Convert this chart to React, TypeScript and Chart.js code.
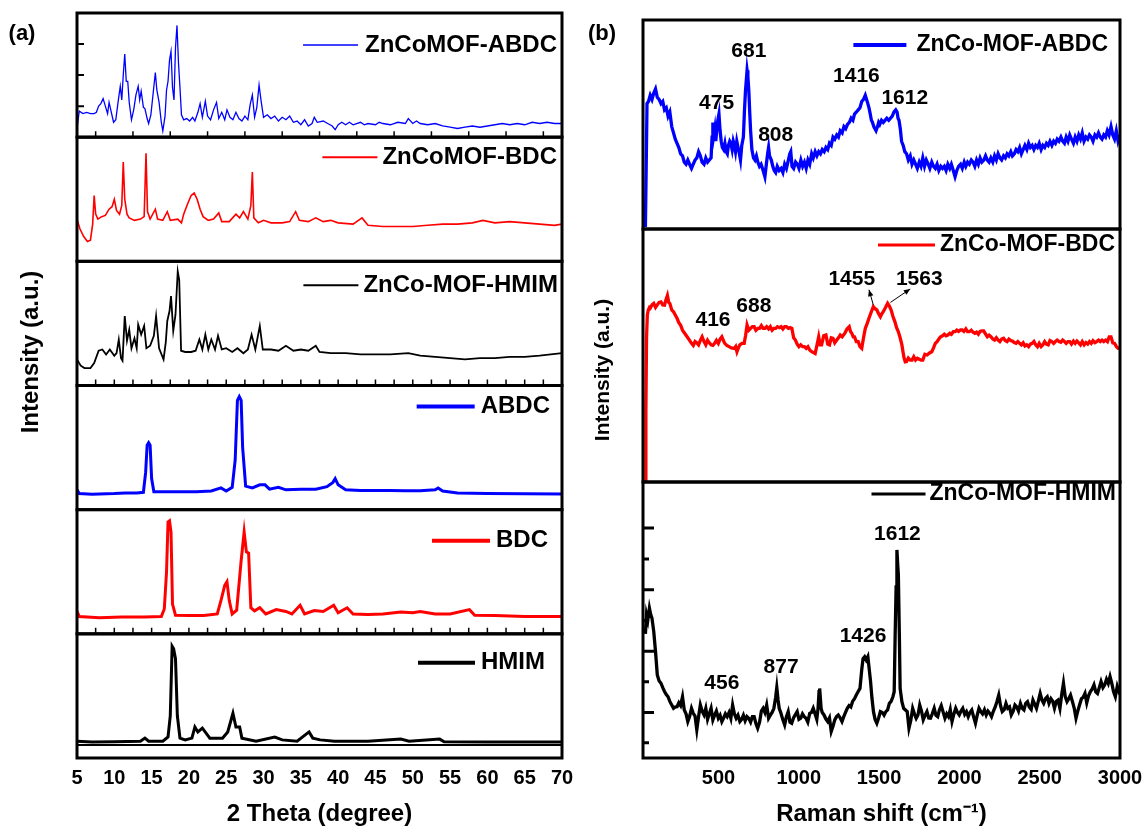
import React, { useEffect, useRef } from "react";
import { Chart, registerables } from "chart.js";

Chart.register(...registerables);

const FONT = 'Arial, "Liberation Sans", sans-serif';
type Pt = [number, number];

// ---------------- (a) XRD : 2θ (degree) vs intensity (a.u., 0-100 per strip) ----------------
const xrdTickLabels = [5, 10, 15, 20, 25, 30, 35, 40, 45, 50, 55, 60, 65, 70];
const xrdInnerTicksFine = [7.5, 10, 12.5, 15, 17.5, 20, 22.5, 25, 27.5, 30, 32.5, 35, 37.5, 40, 42.5, 45, 47.5, 50, 52.5, 55, 57.5, 60, 62.5, 65, 67.5];
const xrdInnerTicksCoarse = [7.5, 12.5, 17.5, 22.5, 27.5, 32.5, 37.5, 42.5, 47.5, 52.5, 57.5, 62.5, 67.5];
const xrdTopLeftTicks = [25, 50, 75];

const xrdZnCoMofAbdc: Pt[] = [[5,7],[5.3,21],[5.8,19],[6.3,20],[6.8,19],[7.3,19],[7.6,20],[7.9,25],[8.2,27],[8.5,31],[8.8,25],[9.1,19],[9.3,28],[9.6,20],[9.9,12],[10.2,14],[10.5,28],[10.8,41],[11.0,30],[11.2,50],[11.4,67],[11.6,45],[11.8,45],[12.0,28],[12.3,14],[12.6,22],[12.9,34],[13.2,41],[13.4,30],[13.6,37],[13.9,24],[14.1,23],[14.4,15],[14.6,11],[14.9,18],[15.2,35],[15.5,52],[15.7,38],[16.0,28],[16.3,12],[16.5,5],[16.8,17],[17.0,38],[17.2,45],[17.4,62],[17.6,69],[17.8,40],[18.0,30],[18.2,72],[18.4,90],[18.6,60],[18.8,40],[19.0,18],[19.3,14],[19.7,15],[20.1,13],[20.5,16],[20.8,13],[21.2,20],[21.5,27],[21.8,16],[22.2,29],[22.5,17],[22.9,14],[23.3,22],[23.7,28],[24.0,15],[24.4,20],[24.8,14],[25.1,22],[25.5,16],[25.9,14],[26.3,20],[26.7,15],[27.1,13],[27.5,17],[27.9,14],[28.2,26],[28.5,34],[28.8,16],[29.1,24],[29.4,42],[29.7,28],[30.0,16],[30.5,18],[31.0,15],[31.5,17],[32.0,13],[32.5,16],[33.0,14],[33.5,17],[34.0,12],[34.5,13],[35.0,10],[35.5,14],[36.0,9],[36.5,11],[36.8,16],[37.2,12],[38.0,13],[38.6,11],[39.2,9],[39.6,6],[40.0,10],[40.5,12],[41.0,10],[41.5,12],[42.0,10],[43.0,12],[43.5,10],[44.0,11],[45.0,10],[45.5,12],[46.0,11],[47.0,10],[48.0,12],[49.0,11],[49.4,15],[50.0,11],[50.5,13],[51.0,11],[52.0,10],[53.0,11],[54.0,9],[55.0,8],[56.0,7],[57.0,8],[58.0,9],[59.0,8],[60.0,9],[61.0,10],[62.0,11],[63.0,10],[64.0,11],[65.0,10],[66.0,12],[67.0,11],[68.0,12],[69.0,11],[70.0,11]];

const xrdZnCoMofBdc: Pt[] = [[5.0,34],[5.4,26],[5.9,20],[6.4,16],[6.8,17],[7.1,30],[7.3,53],[7.5,38],[7.8,34],[8.3,36],[8.8,37],[9.3,42],[9.7,44],[10.0,50],[10.3,41],[10.7,38],[11.0,45],[11.2,80],[11.4,50],[11.7,38],[12.0,35],[12.7,33],[13.5,34],[14.0,36],[14.25,87],[14.45,40],[14.8,34],[15.5,42],[15.8,34],[16.5,33],[17.1,40],[17.5,33],[18.5,34],[19.0,31],[19.3,38],[19.8,46],[20.3,53],[20.7,55],[21.1,50],[21.5,42],[21.9,36],[22.6,33],[23.3,34],[24.0,39],[24.4,32],[25.4,32],[26.3,38],[26.8,35],[27.3,40],[27.9,34],[28.3,45],[28.5,72],[28.7,35],[29.3,31],[30.0,33],[31.0,31],[32.5,31],[33.5,32],[34.3,40],[34.8,33],[36.0,32],[37.0,35],[38.0,32],[39.0,33],[40.0,31],[42.0,30],[43.2,35],[44.0,29],[46.0,28],[48.0,28],[50.0,28],[52.0,29],[54.0,30],[56.0,30],[58.0,31],[59.4,33],[61.0,31],[63.0,32],[65.0,31],[67.0,30],[69.0,29],[70.0,30]];

const xrdZnCoMofHmim: Pt[] = [[5.0,21],[5.5,16],[6.0,14],[6.8,14],[7.3,18],[7.9,28],[8.4,29],[8.9,25],[9.4,29],[10.0,24],[10.3,26],[10.6,37],[10.9,22],[11.1,20],[11.4,56],[11.7,36],[12.0,45],[12.3,30],[12.7,38],[13.0,30],[13.2,49],[13.6,41],[14.0,48],[14.3,30],[14.8,32],[15.3,40],[15.6,56],[16.0,30],[16.6,21],[16.9,35],[17.1,52],[17.4,60],[17.6,72],[17.9,44],[18.2,57],[18.5,92],[18.7,85],[18.95,28],[19.5,27],[20.3,27],[20.9,28],[21.4,37],[21.8,29],[22.2,41],[22.6,29],[23.0,37],[23.5,29],[23.9,40],[24.4,29],[25.0,30],[25.8,27],[26.5,30],[27.3,26],[27.9,29],[28.4,41],[28.9,29],[29.5,48],[29.9,29],[31.0,29],[32.0,28],[33.0,32],[34.0,28],[35.0,29],[36.0,28],[37.0,32],[37.5,27],[39.0,26],[41.0,26],[43.0,25],[45.0,25],[47.0,25],[49.4,26],[51.0,24],[53.0,23],[55.0,22],[57.0,21],[59.0,22],[61.0,22],[63.0,23],[65.0,23],[67.0,24],[70.0,26]];

const xrdAbdc: Pt[] = [[5.0,16],[5.3,13],[7.0,12.5],[10.0,13],[11.5,13.5],[13.0,13.5],[13.9,14],[14.2,30],[14.4,52],[14.6,54],[14.8,52],[15.0,25],[15.3,14.5],[17.0,14.5],[19.0,14.5],[21.0,14.5],[23.0,15],[24.3,17.5],[25.0,15],[25.8,18],[26.2,40],[26.5,88],[26.75,91],[27.0,88],[27.2,50],[27.6,19],[28.5,17.5],[29.5,20],[30.2,20],[30.8,16.5],[32.0,18],[33.0,16],[35.0,16.5],[37.0,16.5],[38.5,18.5],[39.3,22],[39.6,25],[40.0,20],[41.0,16],[43.0,15.5],[45.0,15.5],[47.0,15.5],[49.0,15.3],[51.0,15.3],[53.0,16],[53.4,17.5],[54.0,15],[56.0,13.5],[60.0,13],[65.0,12.8],[70.0,12.6]];

const xrdBdc: Pt[] = [[5.0,18],[5.3,14],[8.0,13],[11.0,13.5],[14.0,13.5],[16.3,14],[16.7,20],[17.0,50],[17.2,90],[17.4,91],[17.6,82],[17.8,24],[18.2,15],[20.0,14.8],[22.0,14.8],[23.8,16],[24.3,27],[24.8,39],[25.1,42],[25.4,27],[25.8,16],[26.4,19],[27.0,59],[27.4,82],[27.7,66],[28.0,65],[28.3,21],[28.8,18.5],[29.5,21],[30.3,16],[31.7,19.5],[33.0,18],[33.8,16],[34.9,23],[35.5,16],[36.8,18.8],[38.0,18],[39.4,23],[40.0,17],[41.2,21],[42.0,16],[44.0,15.5],[46.0,16],[48.4,17.5],[50.0,17],[51.0,18],[53.0,16],[55.0,16],[57.6,19.5],[58.3,15],[61.0,14.8],[65.0,14],[70.0,14]];

const xrdHmim: Pt[] = [[5.0,13.5],[7.0,12.8],[10.0,13],[13.5,13.5],[14.1,16],[14.6,13.5],[16.5,13.5],[17.2,17],[17.5,34],[17.75,90],[17.95,88],[18.2,80],[18.45,34],[18.8,16],[19.5,14.6],[20.4,16],[20.8,25],[21.2,21],[21.8,24],[22.3,20],[22.8,16],[24.5,16],[25.2,21],[25.9,36],[26.3,25],[26.8,25],[27.1,16],[29.0,13.5],[31.5,16.8],[32.5,14.6],[34.5,13.5],[36.1,21],[36.6,16],[37.6,14.6],[39.5,13.5],[44.0,13.5],[48.4,15.2],[49.5,13.5],[53.6,15.2],[54.2,13],[60.0,12.8],[65.0,12.8],[70.0,12.8]];

const xrdHmimBaseLine: Pt[] = [[5, 10.5], [70, 10.5]];

// ---------------- (b) Raman : shift (cm-1) vs intensity (a.u., 0-100 per strip) ----------------
const ramanTickLabels = [500, 1000, 1500, 2000, 2500, 3000];
const ramanHmimTicksMajor = [16.5, 38.7, 61, 83.3];
const ramanHmimTicksMinor = [5.5, 27.6, 49.8, 72.1];

const ramanZnCoMofAbdc: Pt[] = [[45,1],[50,30],[55,60],[64,61],[75,64],[86,62],[97,65],[108,67],[119,63],[130,62],[142,60],[153,61],[164,57],[175,58],[186,54],[197,56],[209,49],[220,46],[231,43],[242,41],[253,39],[264,36],[276,35],[287,32],[298,31],[309,33],[320,31],[332,29],[343,31],[354,33],[365,34],[376,37],[387,35],[398,32],[410,31],[421,34],[432,32],[443,33],[454,34],[460,44],[465,51],[471,45],[477,48],[483,42],[489,47],[496,52],[503,55],[510,47],[517,42],[524,39],[532,38],[540,41],[548,37],[555,36],[562,40],[570,42],[577,41],[585,38],[592,42],[599,40],[606,37],[614,42],[622,39],[630,36],[637,33],[645,40],[655,44],[662,57],[668,66],[674,72],[678,76],[683,73],[689,66],[695,55],[700,47],[708,38],[718,34],[727,33],[736,35],[745,32],[755,30],[765,31],[778,28],[789,25],[798,31],[806,36],[812,39],[818,35],[829,33],[838,30],[847,28],[856,27],[866,30],[878,28],[890,29],[901,27],[912,31],[923,29],[935,33],[944,36],[950,37],[958,30],[968,29],[980,32],[990,31],[1001,29],[1013,33],[1024,30],[1035,32],[1046,29],[1057,33],[1068,31],[1080,36],[1090,34],[1102,37],[1113,35],[1124,37],[1135,36],[1146,38],[1158,37],[1169,39],[1180,38],[1191,41],[1202,40],[1213,44],[1224,43],[1236,45],[1247,44],[1258,47],[1270,46],[1281,49],[1292,48],[1303,50],[1315,51],[1326,53],[1337,52],[1347,55],[1359,56],[1370,57],[1381,58],[1392,61],[1403,62],[1414,64],[1422,62],[1430,60],[1437,58],[1445,55],[1452,52],[1459,51],[1467,49],[1474,48],[1481,47],[1490,49],[1497,51],[1504,50],[1515,52],[1526,51],[1537,52],[1548,53],[1560,52],[1571,53],[1582,54],[1593,56],[1604,57],[1612,56],[1618,53],[1624,52],[1632,48],[1640,42],[1650,40],[1660,37],[1671,36],[1682,33],[1694,35],[1705,31],[1716,33],[1727,31],[1738,29],[1750,32],[1761,30],[1772,34],[1783,30],[1794,33],[1806,31],[1816,29],[1828,32],[1839,30],[1850,29],[1861,31],[1872,28],[1884,30],[1895,29],[1906,30],[1917,28],[1928,31],[1940,29],[1950,31],[1962,28],[1973,25],[1984,28],[1995,30],[2007,31],[2018,29],[2030,32],[2040,30],[2051,32],[2062,31],[2074,33],[2085,32],[2096,30],[2107,33],[2118,31],[2129,34],[2140,32],[2152,33],[2163,35],[2174,33],[2185,32],[2196,34],[2208,32],[2219,35],[2230,33],[2241,36],[2252,34],[2263,33],[2275,35],[2286,34],[2297,36],[2308,35],[2320,37],[2330,35],[2342,36],[2353,38],[2364,37],[2375,39],[2386,36],[2397,38],[2408,40],[2420,38],[2431,41],[2442,39],[2453,40],[2464,38],[2475,40],[2486,39],[2497,41],[2509,38],[2520,40],[2531,39],[2542,41],[2553,40],[2564,42],[2576,40],[2587,42],[2598,41],[2609,43],[2620,42],[2632,44],[2643,42],[2654,41],[2665,44],[2676,42],[2687,45],[2698,43],[2710,41],[2721,44],[2732,42],[2743,45],[2754,43],[2765,46],[2776,42],[2788,44],[2799,43],[2810,45],[2821,44],[2832,42],[2844,45],[2855,44],[2866,46],[2877,44],[2888,43],[2899,45],[2910,44],[2921,47],[2932,45],[2944,49],[2955,45],[2966,43],[2977,47],[2988,42],[3000,45]];

const ramanZnCoMofBdc: Pt[] = [[45,0],[48,28],[52,57],[57,66],[63,68],[70,69],[75,68.7],[86,70],[97,70.6],[108,69],[119,70],[130,71],[142,71.2],[153,70],[164,69.9],[173,72],[182,73.7],[190,71],[197,70.6],[209,68],[220,67.3],[231,66],[242,64.7],[253,63],[264,62],[276,60],[287,59],[298,58],[309,57],[320,56],[332,54.8],[343,54],[354,55.5],[365,55],[376,54.2],[387,56],[398,57.4],[410,55.5],[421,54.2],[432,56],[443,55],[454,54.2],[465,54],[476,54.8],[487,56],[499,54.8],[510,56.5],[521,57.4],[530,56],[539,54.8],[552,54],[566,53.5],[580,53],[599,52.8],[607,53.5],[615,51.5],[624,53],[633,54.2],[646,54.8],[660,54.8],[669,58],[678,62.1],[689,60],[700,60.7],[711,61.4],[722,61.4],[733,60],[745,60.7],[756,60.7],[767,61.8],[778,60.7],[789,60.7],[800,61.4],[812,60.5],[823,61.4],[834,60],[845,60.7],[856,60.7],[867,61.4],[879,61],[890,61.4],[901,60.5],[912,61.4],[923,61.4],[935,60.7],[946,61],[957,60.7],[968,57],[979,56.1],[990,54.5],[1001,53.5],[1012,54.2],[1024,53.5],[1035,53.5],[1046,52.8],[1057,53.5],[1068,52.2],[1080,51.5],[1091,51.2],[1102,50.8],[1113,54],[1124,57.4],[1133,54.2],[1142,54.2],[1155,57.8],[1169,58.1],[1180,54.5],[1191,54.2],[1202,57],[1213,56.8],[1224,55],[1236,56.1],[1247,57],[1258,58.1],[1270,57.4],[1287,58.8],[1300,60.5],[1314,61.4],[1322,59.5],[1330,58.8],[1339,57.4],[1347,57.4],[1358,55.5],[1370,55.5],[1381,53.5],[1392,52.8],[1403,57],[1414,60.7],[1425,62.5],[1437,64.7],[1450,67],[1464,69.3],[1475,68.5],[1486,68],[1497,66.5],[1508,65.3],[1517,66.5],[1526,67.3],[1540,69],[1553,70.6],[1564,69.5],[1575,68],[1586,65.5],[1598,63.4],[1609,61],[1620,59.4],[1631,57],[1642,54.2],[1650,51],[1656,48.9],[1663,47.5],[1671,47.6],[1682,49],[1694,48.2],[1705,48.2],[1716,49.5],[1727,48.2],[1738,48.9],[1750,48.5],[1761,48.2],[1772,48.2],[1785,50.5],[1799,50.2],[1814,51],[1828,51.5],[1839,53],[1850,54.8],[1861,55.5],[1872,56.5],[1883,57.4],[1895,57.8],[1906,58.4],[1917,57.8],[1928,58.1],[1940,58.8],[1950,58.4],[1962,59.4],[1973,59.4],[1984,60],[1995,59.5],[2007,60.1],[2017,60.1],[2028,59.5],[2040,60.5],[2051,59.4],[2062,59.4],[2074,60],[2085,59.2],[2096,58.8],[2107,59.2],[2118,58.4],[2129,59.5],[2140,59.7],[2151,59.7],[2163,58.5],[2174,57.4],[2185,58],[2196,57.4],[2208,56.5],[2219,56.1],[2230,57],[2241,56.1],[2252,55.5],[2263,56.5],[2275,56.8],[2285,55.9],[2297,55.5],[2308,56.5],[2320,55.9],[2330,55.7],[2342,55.1],[2353,54.8],[2364,55.5],[2375,54.8],[2386,54.2],[2397,55],[2408,53.8],[2419,54.2],[2431,53.5],[2442,54.5],[2453,54.8],[2464,55.5],[2475,54.2],[2486,53.5],[2497,54.8],[2509,53.5],[2520,54.2],[2531,55.5],[2542,54.5],[2553,54.2],[2564,55.9],[2576,55.5],[2587,54.8],[2598,55.5],[2609,56.1],[2620,55.5],[2632,55.2],[2643,56.1],[2654,55.5],[2665,54.8],[2676,55.5],[2687,55.5],[2698,54.5],[2710,55.7],[2721,54.8],[2732,55.7],[2743,55],[2754,54.2],[2765,55.5],[2777,54.2],[2788,55.1],[2799,54.5],[2810,55.5],[2821,54.8],[2832,55.9],[2844,55.1],[2855,55.5],[2866,56.1],[2877,55.5],[2888,56.1],[2899,55.5],[2911,56.1],[2922,55.5],[2933,57.4],[2944,57.4],[2955,55],[2966,54.8],[2978,53.5],[2989,52.8],[3000,52.8]];

const ramanZnCoMofHmim: Pt[] = [[45,45],[52,52],[60,50],[70,54.3],[78,52],[86,50.6],[97,45.8],[108,38.5],[119,30.1],[130,28],[142,27.1],[153,25.5],[164,24.1],[175,23],[186,22.2],[197,20.5],[209,19.2],[220,18],[231,18.5],[242,18.6],[253,20],[264,19],[276,22.2],[287,17.4],[298,16],[309,13.2],[320,15],[332,18],[343,16.2],[354,15.2],[365,10.2],[376,15],[387,19.2],[398,17],[410,15.6],[421,18],[432,14],[443,16],[454,18],[465,13.8],[476,15.5],[487,17],[499,14.4],[510,15.5],[521,13.2],[532,14.5],[543,16],[554,15],[566,16.5],[577,14.4],[588,19.2],[599,16],[610,14.4],[621,15.5],[633,13.2],[644,14],[655,15.5],[666,13.5],[677,15],[688,14.4],[700,13],[711,15],[722,15],[733,12.5],[744,10.8],[756,13],[767,17],[778,18],[789,16.5],[800,19.2],[812,14.4],[823,15.5],[834,16.5],[845,18],[856,22],[863,25.5],[871,21],[878,18],[889,16.2],[900,14],[912,12],[923,15],[934,16.8],[945,13],[956,12.6],[967,14.5],[978,15.6],[990,16.8],[1001,14],[1012,14.4],[1023,16],[1034,15],[1045,14.4],[1056,13],[1068,16.2],[1079,16.5],[1090,18],[1101,16],[1112,14],[1120,18],[1126,24],[1130,25.2],[1134,22],[1139,18],[1146,16.5],[1157,15.6],[1168,14.2],[1180,13.2],[1191,14.5],[1202,9.6],[1213,11.5],[1224,13.8],[1235,15],[1246,15.6],[1258,14.5],[1269,13.2],[1280,15],[1291,16.5],[1302,18],[1313,19],[1324,18.5],[1335,20.5],[1347,21.5],[1358,22.8],[1369,24],[1381,25.2],[1392,32],[1400,36],[1410,36.7],[1420,35.5],[1430,36.7],[1437,33],[1447,27.7],[1455,22],[1465,16.8],[1475,14],[1486,12.6],[1497,14.5],[1508,16.8],[1520,16.5],[1531,15.5],[1542,16.8],[1553,17.4],[1564,19.8],[1575,20.5],[1586,22.2],[1594,24],[1600,44.6],[1606,62],[1611,75.4],[1616,70],[1620,66.3],[1626,45],[1631,25.2],[1642,20.4],[1653,18],[1664,17.4],[1675,16.8],[1686,10.8],[1697,13.5],[1709,18],[1720,16],[1731,14.4],[1742,15.6],[1753,19.2],[1764,17],[1775,13.8],[1787,15.5],[1798,16.8],[1809,14.5],[1820,14.4],[1831,16],[1843,18],[1854,15.5],[1865,15],[1876,17.5],[1887,19],[1898,16.8],[1910,14.4],[1921,16],[1932,15],[1943,17.5],[1954,13.2],[1965,15.8],[1977,18],[1988,16.5],[1999,15.6],[2010,17],[2021,18],[2033,15.8],[2044,16.8],[2055,15],[2066,16.5],[2077,17.4],[2089,14.8],[2100,12.6],[2111,15.5],[2122,18],[2133,16.8],[2144,16],[2156,17.5],[2167,15.6],[2178,17],[2189,16.2],[2200,15],[2212,17],[2223,18.5],[2234,20.5],[2245,22.8],[2256,19],[2267,16.8],[2279,17.5],[2290,19.8],[2301,18],[2312,18.5],[2323,15.6],[2335,17],[2346,19.2],[2357,18.5],[2368,17],[2380,19.8],[2391,18],[2402,17.4],[2413,19.8],[2424,20.4],[2435,18.5],[2447,17.6],[2458,21],[2469,19.5],[2480,18],[2491,20.5],[2503,23.4],[2514,21],[2525,19.8],[2536,21.5],[2547,22.2],[2558,19.8],[2570,21.5],[2581,20.6],[2592,18],[2603,20.5],[2614,21],[2626,18],[2637,23],[2648,27.1],[2659,22.2],[2670,20.4],[2681,21.5],[2692,22.8],[2704,20.4],[2715,18],[2726,14.4],[2737,17],[2748,19.2],[2760,21.5],[2771,22],[2782,23.4],[2793,20],[2804,22.5],[2815,24],[2827,25],[2838,26.5],[2849,24],[2860,23.4],[2871,25.5],[2882,27.7],[2894,25.5],[2905,26.5],[2916,28.5],[2927,27],[2938,29.5],[2949,27],[2960,24],[2971,22.2],[2983,26],[2994,24.1],[3000,23]];

// peak annotations (text, Raman shift, intensity in strip units)
const abdcPeakText = ["475", "681", "808", "1416", "1612"];
const abdcPeakX = [488, 689, 856, 1359, 1660];
const abdcPeakY = [60, 85, 45, 73, 62.5];
const bdcPeakText = ["416", "688", "1455", "1563"];
const bdcPeakX = [466, 720, 1330, 1750];
const bdcPeakY = [64, 69.5, 80.3, 80.3];
const bdcArrows: Pt[][] = [[[1464, 70], [1437, 76]], [[1571, 71], [1694, 76.3]]];
const hmimPeakText = ["456", "877", "1426", "1612"];
const hmimPeakX = [521, 890, 1400, 1614];
const hmimPeakY = [27, 33, 44, 81];

type Strip = {
  id: string;
  label: string;
  color: string;
  lineWidth: number;
  points: Pt[];
  weight: number;
  legend: { inset: number; dy: number; gap: number; len: number; lw: number };
  bottomTicks?: number[];
  leftTicks?: number[];
  leftTicksLen?: number;
  leftTicksMajor?: number[];
  leftTicksMinor?: number[];
  notes?: { text: string[]; x: number[]; y: number[] };
  arrows?: Pt[][];
  refLine?: Pt[];
};

const xrdStrips: Strip[] = [
  { id: "ya1", label: "ZnCoMOF-ABDC", color: "#0000ff", lineWidth: 1.3, points: xrdZnCoMofAbdc, weight: 1,
    legend: { inset: 5, dy: 32, gap: 7, len: 55, lw: 1.5 }, bottomTicks: xrdInnerTicksCoarse, leftTicks: xrdTopLeftTicks, leftTicksLen: 7 },
  { id: "ya2", label: "ZnCoMOF-BDC", color: "#ff0000", lineWidth: 1.6, points: xrdZnCoMofBdc, weight: 1,
    legend: { inset: 5, dy: 20, gap: 5, len: 55, lw: 2 } },
  { id: "ya3", label: "ZnCo-MOF-HMIM", color: "#000000", lineWidth: 1.8, points: xrdZnCoMofHmim, weight: 1,
    legend: { inset: 4, dy: 24, gap: 5, len: 55, lw: 2 }, bottomTicks: xrdInnerTicksFine },
  { id: "ya4", label: "ABDC", color: "#0000ff", lineWidth: 3, points: xrdAbdc, weight: 1,
    legend: { inset: 12, dy: 21, gap: 6, len: 58, lw: 4 } },
  { id: "ya5", label: "BDC", color: "#ff0000", lineWidth: 3, points: xrdBdc, weight: 1,
    legend: { inset: 14, dy: 31, gap: 6, len: 58, lw: 4 }, bottomTicks: xrdInnerTicksFine },
  { id: "ya6", label: "HMIM", color: "#000000", lineWidth: 3, points: xrdHmim, weight: 1,
    legend: { inset: 17, dy: 29, gap: 6, len: 57, lw: 4 }, refLine: xrdHmimBaseLine },
];

const ramanStrips: Strip[] = [
  { id: "yb1", label: "ZnCo-MOF-ABDC", color: "#0000ff", lineWidth: 3.3, points: ramanZnCoMofAbdc, weight: 209,
    legend: { inset: 12, dy: 25, gap: 10, len: 53, lw: 4 },
    notes: { text: abdcPeakText, x: abdcPeakX, y: abdcPeakY } },
  { id: "yb2", label: "ZnCo-MOF-BDC", color: "#ff0000", lineWidth: 3.3, points: ramanZnCoMofBdc, weight: 253,
    legend: { inset: 5, dy: 16, gap: 5, len: 57, lw: 3 },
    notes: { text: bdcPeakText, x: bdcPeakX, y: bdcPeakY }, arrows: bdcArrows },
  { id: "yb3", label: "ZnCo-MOF-HMIM", color: "#000000", lineWidth: 3.3, points: ramanZnCoMofHmim, weight: 276,
    legend: { inset: 4, dy: 12, gap: 4, len: 54, lw: 3 },
    notes: { text: hmimPeakText, x: hmimPeakX, y: hmimPeakY },
    leftTicksMajor: ramanHmimTicksMajor, leftTicksMinor: ramanHmimTicksMinor },
];

function makeFramePlugin(strips: Strip[], legendFont: number, noteFont: number) {
  return {
    id: "frames",
    afterDatasetsDraw(chart: any) {
      const { ctx, chartArea: ca, scales } = chart;
      const xs = scales.x;
      ctx.save();
      for (const s of strips) {
        const ys = scales[s.id];
        const top = ys.top;
        const bottom = ys.bottom;
        ctx.strokeStyle = "#000";
        ctx.lineCap = "butt";
        if (s.bottomTicks) {
          ctx.lineWidth = 1.5;
          ctx.beginPath();
          for (const v of s.bottomTicks) {
            const px = xs.getPixelForValue(v);
            ctx.moveTo(px, bottom);
            ctx.lineTo(px, bottom - 6);
          }
          ctx.stroke();
        }
        if (s.leftTicks) {
          ctx.lineWidth = 2;
          ctx.beginPath();
          for (const v of s.leftTicks) {
            const py = ys.getPixelForValue(v);
            ctx.moveTo(ca.left, py);
            ctx.lineTo(ca.left + (s.leftTicksLen || 6), py);
          }
          ctx.stroke();
        }
        if (s.leftTicksMajor) {
          ctx.lineWidth = 3;
          ctx.beginPath();
          for (const v of s.leftTicksMajor) {
            const py = ys.getPixelForValue(v);
            ctx.moveTo(ca.left, py);
            ctx.lineTo(ca.left + 11, py);
          }
          ctx.stroke();
        }
        if (s.leftTicksMinor) {
          ctx.lineWidth = 3;
          ctx.beginPath();
          for (const v of s.leftTicksMinor) {
            const py = ys.getPixelForValue(v);
            ctx.moveTo(ca.left, py);
            ctx.lineTo(ca.left + 6, py);
          }
          ctx.stroke();
        }
        if (s.arrows) {
          ctx.lineWidth = 1;
          ctx.fillStyle = "#000";
          for (const a of s.arrows) {
            const x0 = xs.getPixelForValue(a[0][0]);
            const y0 = ys.getPixelForValue(a[0][1]);
            const x1 = xs.getPixelForValue(a[1][0]);
            const y1 = ys.getPixelForValue(a[1][1]);
            ctx.beginPath();
            ctx.moveTo(x0, y0);
            ctx.lineTo(x1, y1);
            ctx.stroke();
            const ang = Math.atan2(y1 - y0, x1 - x0);
            const hl = 7;
            ctx.beginPath();
            ctx.moveTo(x1, y1);
            ctx.lineTo(x1 - hl * Math.cos(ang - 0.4), y1 - hl * Math.sin(ang - 0.4));
            ctx.lineTo(x1 - hl * Math.cos(ang + 0.4), y1 - hl * Math.sin(ang + 0.4));
            ctx.closePath();
            ctx.fill();
          }
        }
        if (s.notes) {
          ctx.fillStyle = "#000";
          ctx.font = `bold ${noteFont}px ${FONT}`;
          ctx.textAlign = "center";
          ctx.textBaseline = "middle";
          s.notes.text.forEach((t, i) => {
            ctx.fillText(t, xs.getPixelForValue(s.notes!.x[i]), ys.getPixelForValue(s.notes!.y[i]));
          });
        }
        // legend entry
        ctx.font = `bold ${legendFont}px ${FONT}`;
        ctx.textAlign = "right";
        ctx.textBaseline = "middle";
        ctx.fillStyle = "#000";
        const tx = ca.right - s.legend.inset;
        const ty = top + s.legend.dy;
        ctx.fillText(s.label, tx, ty);
        const w = ctx.measureText(s.label).width;
        const lx1 = tx - w - s.legend.gap;
        const lx0 = lx1 - s.legend.len;
        ctx.strokeStyle = s.color;
        ctx.lineWidth = s.legend.lw;
        ctx.beginPath();
        ctx.moveTo(lx0, ty);
        ctx.lineTo(lx1, ty);
        ctx.stroke();
        // frame
        ctx.strokeStyle = "#000";
        ctx.lineWidth = 3;
        ctx.strokeRect(ca.left, top, ca.right - ca.left, bottom - top);
      }
      ctx.restore();
    },
  };
}

function buildChart(
  canvas: HTMLCanvasElement,
  strips: Strip[],
  xMin: number,
  xMax: number,
  xTicks: number[],
  xTitle: string,
  pad: { left: number; right: number; top: number },
  legendFont: number,
  noteFont: number
) {
  const scales: any = {
    x: {
      type: "linear",
      position: "bottom",
      min: xMin,
      max: xMax,
      afterBuildTicks: (sc: any) => {
        sc.ticks = xTicks.map((v) => ({ value: v }));
      },
      ticks: {
        autoSkip: false,
        maxRotation: 0,
        padding: 8,
        color: "#000",
        font: { family: FONT, size: 20, weight: "bold" },
        callback: (v: any) => String(v),
      },
      grid: { display: false, drawTicks: false },
      border: { display: false },
      title: {
        display: true,
        text: xTitle,
        color: "#000",
        font: { family: FONT, size: 24, weight: "bold" },
        padding: { top: 0, bottom: 4 },
      },
      afterFit: (sc: any) => {
        sc.height = 75;
        sc.paddingLeft = 0;
        sc.paddingRight = 0;
      },
    },
  };
  // stacked y axes: defined bottom-first so that the last one lands on top
  [...strips].reverse().forEach((s) => {
    scales[s.id] = {
      type: "linear",
      position: "left",
      stack: "strips",
      stackWeight: s.weight,
      min: 0,
      max: 100,
      ticks: { display: false },
      grid: { display: false, drawTicks: false },
      border: { display: false },
      afterFit: (sc: any) => {
        sc.width = 0;
        sc.paddingTop = 0;
        sc.paddingBottom = 0;
      },
    };
  });
  const datasets: any[] = [];
  strips.forEach((s) => {
    datasets.push({
      label: s.label,
      data: s.points.map((p) => ({ x: p[0], y: p[1] })),
      yAxisID: s.id,
      xAxisID: "x",
      borderColor: s.color,
      borderWidth: s.lineWidth,
      pointRadius: 0,
      tension: 0,
      fill: false,
      borderJoinStyle: "miter",
    });
    if (s.refLine) {
      datasets.push({
        label: s.label + " base",
        data: s.refLine.map((p) => ({ x: p[0], y: p[1] })),
        yAxisID: s.id,
        xAxisID: "x",
        borderColor: "#000",
        borderWidth: 2,
        pointRadius: 0,
        fill: false,
      });
    }
  });
  return new Chart(canvas, {
    type: "line",
    data: { datasets },
    options: {
      animation: false,
      responsive: false,
      events: [],
      layout: { padding: { left: pad.left, right: pad.right, top: pad.top, bottom: 0 } },
      plugins: { legend: { display: false }, tooltip: { enabled: false }, title: { display: false } },
      scales,
    } as any,
    plugins: [makeFramePlugin(strips, legendFont, noteFont)],
  });
}

export default function App() {
  const refA = useRef<HTMLCanvasElement>(null);
  const refB = useRef<HTMLCanvasElement>(null);

  useEffect(() => {
    const a = buildChart(refA.current!, xrdStrips, 5, 70, xrdTickLabels, "2 Theta (degree)",
      { left: 77, right: 1145 - 562, top: 13 }, 24, 21);
    const b = buildChart(refB.current!, ramanStrips, 30, 3000, ramanTickLabels, "Raman shift (cm\u207B\u00B9)",
      { left: 643, right: 1145 - 1120, top: 20 }, 23, 21);
    return () => {
      a.destroy();
      b.destroy();
    };
  }, []);

  const txt: React.CSSProperties = {
    position: "absolute",
    fontFamily: FONT,
    fontWeight: "bold",
    color: "#000",
    whiteSpace: "nowrap",
    lineHeight: 1,
  };

  return (
    <div style={{ position: "fixed", left: 0, top: 0, width: 1145, height: 833, background: "#fff", overflow: "hidden" }}>
      <canvas ref={refA} width={1145} height={833} style={{ position: "absolute", left: 0, top: 0, width: 1145, height: 833 }} />
      <canvas ref={refB} width={1145} height={833} style={{ position: "absolute", left: 0, top: 0, width: 1145, height: 833 }} />
      <div style={{ ...txt, left: 22, top: 33, fontSize: 22, transform: "translate(-50%,-50%)" }}>(a)</div>
      <div style={{ ...txt, left: 602, top: 33, fontSize: 22, transform: "translate(-50%,-50%)" }}>(b)</div>
      <div style={{ ...txt, left: 30, top: 352, fontSize: 24, transform: "translate(-50%,-50%) rotate(-90deg)" }}>Intensity (a.u.)</div>
      <div style={{ ...txt, left: 601, top: 370, fontSize: 21, transform: "translate(-50%,-50%) rotate(-90deg)" }}>Intensity (a.u.)</div>
    </div>
  );
}
